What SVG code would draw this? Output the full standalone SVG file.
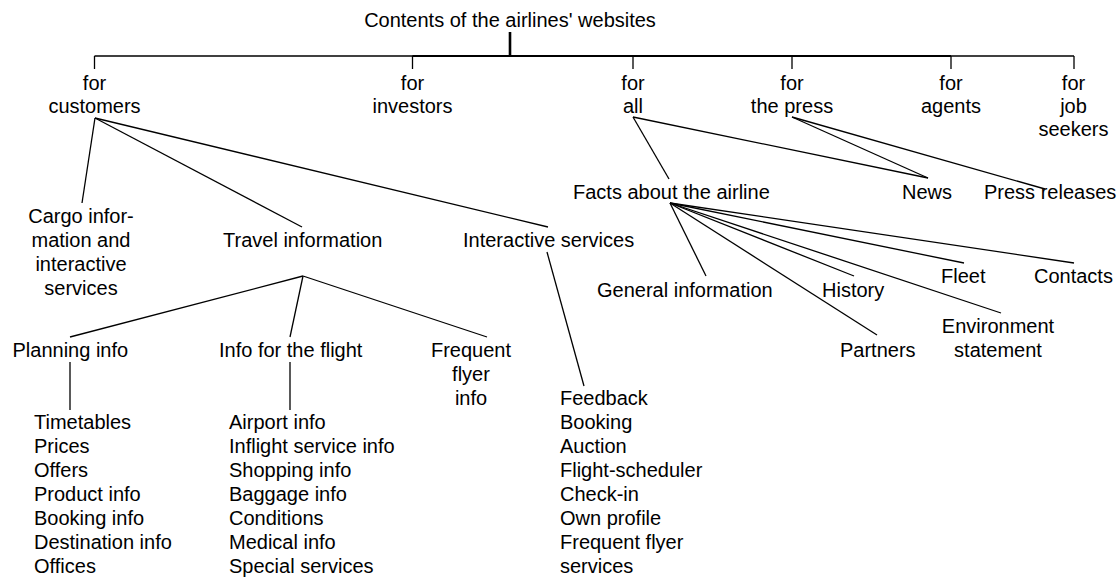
<svg xmlns="http://www.w3.org/2000/svg" width="1120" height="581" viewBox="0 0 1120 581">
  <style>
    text { font-family: "Liberation Sans", Arial, sans-serif; font-size: 20px; fill: #000; }
    .c { text-anchor: middle; }
    .edge { stroke: #000; stroke-width: 1.3; fill: none; stroke-linecap: butt; }
    .bar { stroke: #000; stroke-width: 2; fill: none; }
    .stem { stroke: #000; stroke-width: 2.6; fill: none; }
  </style>
  <rect width="1120" height="581" fill="#fff"/>

  <!-- connectors -->
  <g id="connectors">
    <!-- top bracket -->
    <line class="stem" x1="510" y1="32" x2="510" y2="56"/>
    <line class="edge" x1="94.5" y1="56" x2="1074" y2="56"/>
    <line class="bar" x1="412.5" y1="56" x2="951" y2="56"/>
    <line class="edge" x1="94.5" y1="56" x2="94.5" y2="69"/>
    <line class="edge" x1="412.5" y1="56" x2="412.5" y2="69"/>
    <line class="edge" x1="633" y1="56" x2="633" y2="69"/>
    <line class="edge" x1="792" y1="56" x2="792" y2="69"/>
    <line class="edge" x1="951" y1="56" x2="951" y2="69"/>
    <line class="edge" x1="1074" y1="56" x2="1074" y2="69"/>
    <!-- for customers -->
    <line class="edge" x1="95" y1="118" x2="82" y2="203"/>
    <line class="edge" x1="95" y1="118" x2="302" y2="227"/>
    <line class="edge" x1="95" y1="118" x2="548" y2="227"/>
    <!-- travel information -->
    <line class="edge" x1="303" y1="276" x2="70" y2="337"/>
    <line class="edge" x1="303" y1="276" x2="290" y2="337"/>
    <line class="edge" x1="303" y1="276" x2="487" y2="337"/>
    <line class="edge" x1="70" y1="362" x2="70" y2="410"/>
    <line class="edge" x1="290" y1="362" x2="290" y2="410"/>
    <!-- interactive services -->
    <line class="edge" x1="547" y1="252" x2="584" y2="386"/>
    <!-- for all / for the press -->
    <line class="edge" x1="633" y1="117" x2="669" y2="179"/>
    <line class="edge" x1="633" y1="117" x2="928" y2="178"/>
    <line class="edge" x1="792" y1="117" x2="928" y2="178"/>
    <line class="edge" x1="792" y1="117" x2="1045" y2="189"/>
    <!-- facts about the airline -->
    <line class="edge" x1="670" y1="203" x2="706" y2="276"/>
    <line class="edge" x1="670" y1="203" x2="854" y2="276"/>
    <line class="edge" x1="670" y1="203" x2="877" y2="335"/>
    <line class="edge" x1="670" y1="203" x2="1001" y2="313"/>
    <line class="edge" x1="670" y1="203" x2="964" y2="263"/>
    <line class="edge" x1="670" y1="203" x2="1074" y2="263"/>
  </g>

  <!-- nodes -->
  <g id="root"><text class="c" x="510" y="27">Contents of the airlines' websites</text></g>

  <g id="customers"><text class="c" x="94.5" y="90">for</text><text class="c" x="94.5" y="113">customers</text></g>
  <g id="investors"><text class="c" x="412.5" y="90">for</text><text class="c" x="412.5" y="113">investors</text></g>
  <g id="all"><text class="c" x="633" y="90">for</text><text class="c" x="633" y="113">all</text></g>
  <g id="press"><text class="c" x="792" y="90">for</text><text class="c" x="792" y="113">the press</text></g>
  <g id="agents"><text class="c" x="951" y="90">for</text><text class="c" x="951" y="113">agents</text></g>
  <g id="jobseekers"><text class="c" x="1073.5" y="90">for</text><text class="c" x="1073.5" y="113">job</text><text class="c" x="1073.5" y="136">seekers</text></g>

  <g id="cargo">
    <text class="c" x="81" y="223">Cargo infor-</text>
    <text class="c" x="81" y="247">mation and</text>
    <text class="c" x="81" y="271">interactive</text>
    <text class="c" x="81" y="295">services</text>
  </g>
  <g id="travel"><text x="223" y="247">Travel information</text></g>
  <g id="interactive"><text x="463" y="247">Interactive services</text></g>

  <g id="planning"><text x="12.5" y="357">Planning info</text></g>
  <g id="flight"><text x="219" y="357">Info for the flight</text></g>
  <g id="frequent">
    <text class="c" x="471" y="357">Frequent</text>
    <text class="c" x="471" y="381">flyer</text>
    <text class="c" x="471" y="405">info</text>
  </g>

  <g id="planning-list">
    <text x="34" y="429">Timetables</text>
    <text x="34" y="453">Prices</text>
    <text x="34" y="477">Offers</text>
    <text x="34" y="501">Product info</text>
    <text x="34" y="525">Booking info</text>
    <text x="34" y="549">Destination info</text>
    <text x="34" y="573">Offices</text>
  </g>
  <g id="flight-list">
    <text x="229" y="429">Airport info</text>
    <text x="229" y="453">Inflight service info</text>
    <text x="229" y="477">Shopping info</text>
    <text x="229" y="501">Baggage info</text>
    <text x="229" y="525">Conditions</text>
    <text x="229" y="549">Medical info</text>
    <text x="229" y="573">Special services</text>
  </g>
  <g id="interactive-list">
    <text x="560" y="405">Feedback</text>
    <text x="560" y="429">Booking</text>
    <text x="560" y="453">Auction</text>
    <text x="560" y="477">Flight-scheduler</text>
    <text x="560" y="501">Check-in</text>
    <text x="560" y="525">Own profile</text>
    <text x="560" y="549">Frequent flyer</text>
    <text x="560" y="573">services</text>
  </g>

  <g id="facts"><text x="573" y="199">Facts about the airline</text></g>
  <g id="news"><text x="902" y="199">News</text></g>
  <g id="pressreleases"><text x="984" y="199">Press releases</text></g>

  <g id="general"><text x="597" y="297">General information</text></g>
  <g id="history"><text x="822" y="297">History</text></g>
  <g id="partners"><text x="840" y="357">Partners</text></g>
  <g id="fleet"><text x="941" y="283">Fleet</text></g>
  <g id="contacts"><text x="1034" y="283">Contacts</text></g>
  <g id="environment">
    <text class="c" x="998" y="333">Environment</text>
    <text class="c" x="998" y="357">statement</text>
  </g>
</svg>
